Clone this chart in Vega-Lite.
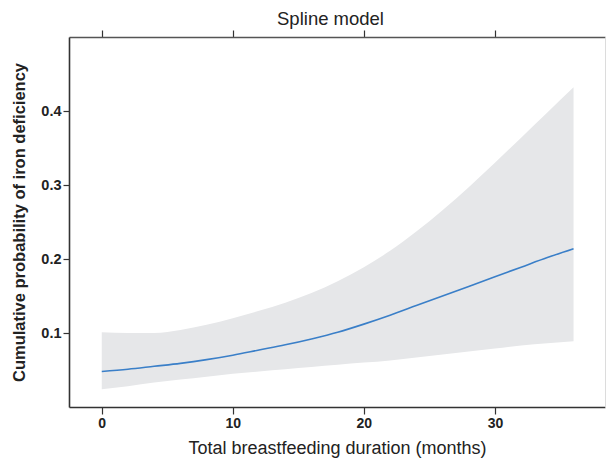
{
  "$schema": "https://vega.github.io/schema/vega-lite/v6.json",
  "width": 536,
  "height": 370,
  "autosize": {"type": "none"},
  "padding": {"left": 69, "top": 37, "right": 1, "bottom": 51},
  "background": "white",
  "config": {
    "view": {"stroke": null},
    "font": "Liberation Sans",
    "axis": {"grid": false}
  },
  "data": {
    "values": [
      {"months": 0, "est": 0.048, "lower": 0.024, "upper": 0.101},
      {"months": 2, "est": 0.051, "lower": 0.028, "upper": 0.100},
      {"months": 4, "est": 0.055, "lower": 0.033, "upper": 0.100},
      {"months": 6, "est": 0.059, "lower": 0.037, "upper": 0.104},
      {"months": 8, "est": 0.064, "lower": 0.041, "upper": 0.111},
      {"months": 10, "est": 0.070, "lower": 0.045, "upper": 0.120},
      {"months": 12, "est": 0.077, "lower": 0.048, "upper": 0.130},
      {"months": 14, "est": 0.084, "lower": 0.051, "upper": 0.141},
      {"months": 16, "est": 0.092, "lower": 0.054, "upper": 0.154},
      {"months": 18, "est": 0.101, "lower": 0.057, "upper": 0.170},
      {"months": 20, "est": 0.112, "lower": 0.060, "upper": 0.189},
      {"months": 22, "est": 0.124, "lower": 0.063, "upper": 0.211},
      {"months": 24, "est": 0.137, "lower": 0.067, "upper": 0.237},
      {"months": 26, "est": 0.150, "lower": 0.071, "upper": 0.266},
      {"months": 28, "est": 0.163, "lower": 0.075, "upper": 0.297},
      {"months": 30, "est": 0.176, "lower": 0.079, "upper": 0.330},
      {"months": 32, "est": 0.189, "lower": 0.083, "upper": 0.364},
      {"months": 34, "est": 0.202, "lower": 0.086, "upper": 0.398},
      {"months": 36, "est": 0.214, "lower": 0.089, "upper": 0.432}
    ]
  },
  "layer": [
    {
      "mark": {"type": "area", "color": "#e6e7e9", "opacity": 1, "interpolate": "monotone"},
      "encoding": {
        "x": {
          "field": "months", "type": "quantitative",
          "scale": {"domain": [-2.5, 38.4], "nice": false, "zero": false},
          "axis": {
            "orient": "bottom", "values": [0, 10, 20, 30],
            "title": "Total breastfeeding duration (months)",
            "titleFont": "Liberation Sans", "titleFontSize": 18, "titleFontWeight": "normal", "titleColor": "#222",
            "titlePadding": 9,
            "labelFont": "Liberation Sans", "labelFontSize": 14, "labelFontWeight": "bold", "labelColor": "#222",
            "labelPadding": 2,
            "tickSize": 7, "tickColor": "#333", "tickWidth": 1.2,
            "domainColor": "#333", "domainWidth": 1.6
          }
        },
        "y": {
          "field": "lower", "type": "quantitative",
          "scale": {"domain": [0, 0.5], "nice": false, "zero": false},
          "axis": {
            "orient": "left", "values": [0.1, 0.2, 0.3, 0.4], "format": ".1f",
            "title": "Cumulative probability of iron deficiency",
            "titleFont": "Liberation Sans", "titleFontSize": 16.5, "titleFontWeight": "bold", "titleColor": "#222",
            "titlePadding": 13,
            "labelFont": "Liberation Sans", "labelFontSize": 14.5, "labelFontWeight": "bold", "labelColor": "#222",
            "labelPadding": 2,
            "tickSize": 6, "tickColor": "#333", "tickWidth": 1.2,
            "domainColor": "#333", "domainWidth": 1.6
          }
        },
        "y2": {"field": "upper"}
      }
    },
    {
      "mark": {"type": "line", "color": "#3a7fc8", "strokeWidth": 1.6, "interpolate": "monotone"},
      "encoding": {
        "x": {
          "field": "months", "type": "quantitative",
          "axis": {
            "orient": "top", "values": [0, 10, 20, 30], "labels": false,
            "title": "Spline model",
            "titleFont": "Liberation Sans", "titleFontSize": 18.5, "titleFontWeight": "normal", "titleColor": "#222",
            "titlePadding": 1,
            "titleX": 261,
            "tickSize": 7, "tickColor": "#333", "tickWidth": 1.2,
            "domainColor": "#555", "domainWidth": 1.4
          }
        },
        "y": {
          "field": "est", "type": "quantitative",
          "axis": {
            "orient": "right", "labels": false, "ticks": false, "title": null,
            "domainColor": "#dcdcdc", "domainWidth": 1
          }
        }
      }
    }
  ],
  "resolve": {"axis": {"x": "independent", "y": "independent"}}
}
